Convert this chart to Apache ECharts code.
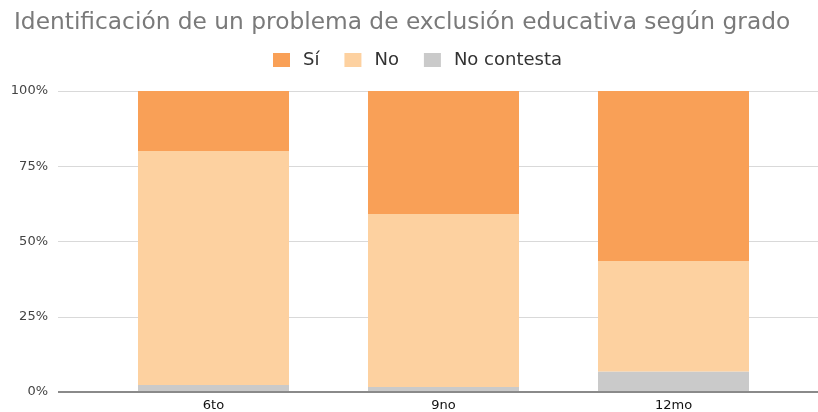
<!DOCTYPE html>
<html><head><meta charset="utf-8">
<script src="https://cdn.jsdelivr.net/npm/echarts@6/dist/echarts.min.js"></script>
<style>html,body{margin:0;padding:0;background:#fff}#c{width:818px;height:412px}</style>
</head><body><div id="c"></div>
<script>
const categories = ['6to', '9no', '12mo'];
const siValues = [19.9, 40.9, 56.5];
const noValues = [77.8, 57.4, 36.7];
const noContestaValues = [2.3, 1.7, 6.8];
const yTicks = [0, 25, 50, 75, 100];

const chart = echarts.init(document.getElementById('c'));
const font = '"DejaVu Sans", sans-serif';
chart.setOption({
  animation: false,
  title: {
    text: 'Identificación de un problema de exclusión educativa según grado',
    left: 9, top: 6,
    textStyle: { fontFamily: font, fontSize: 23.3, fontWeight: 'normal', color: '#7a7a7a' }
  },
  legend: {
    top: 46, left: 268, itemWidth: 17, itemHeight: 14, itemGap: 25,
    icon: 'rect',
    textStyle: { fontFamily: font, fontSize: 18, color: '#333', padding: [0, 0, 0, 8] },
    data: ['Sí', 'No', 'No contesta']
  },
  grid: [
    { left: 58, right: 0, top: 91, bottom: 20 },
    { left: 98.5, right: 29.5, top: 91, bottom: 20 }
  ],
  xAxis: [
    { gridIndex: 0, type: 'value', min: 0, max: 1, show: false },
    { gridIndex: 1, type: 'category', data: categories,
      axisLine: { show: false }, axisTick: { show: false },
      axisLabel: { fontFamily: font, fontSize: 13, color: '#111', margin: 7 } }
  ],
  yAxis: [
    { gridIndex: 0, type: 'value', min: yTicks[0], max: yTicks[yTicks.length - 1], interval: 25,
      axisLabel: { formatter: v => v + '%', fontFamily: font, fontSize: 13, color: '#444', margin: 10 },
      axisLine: { show: false }, axisTick: { show: false },
      splitLine: { lineStyle: { color: '#d9d9d9', width: 1 } } },
    { gridIndex: 1, type: 'value', min: 0, max: 100, show: false, splitLine: { show: false } }
  ],
  series: [
    { name: 'No contesta', type: 'bar', stack: 'a', xAxisIndex: 1, yAxisIndex: 1, barWidth: 151,
      data: noContestaValues, itemStyle: { color: '#cacaca' } },
    { name: 'No', type: 'bar', stack: 'a', xAxisIndex: 1, yAxisIndex: 1, barWidth: 151,
      data: noValues, itemStyle: { color: '#fdd1a0' } },
    { name: 'Sí', type: 'bar', stack: 'a', xAxisIndex: 1, yAxisIndex: 1, barWidth: 151,
      data: siValues, itemStyle: { color: '#f9a057' } },
    { type: 'line', xAxisIndex: 0, yAxisIndex: 0, data: [[0, 0], [1, 0]], symbol: 'none',
      lineStyle: { color: '#8a8a8a', width: 2 }, silent: true, z: 5 }
  ]
});
</script></body></html>
